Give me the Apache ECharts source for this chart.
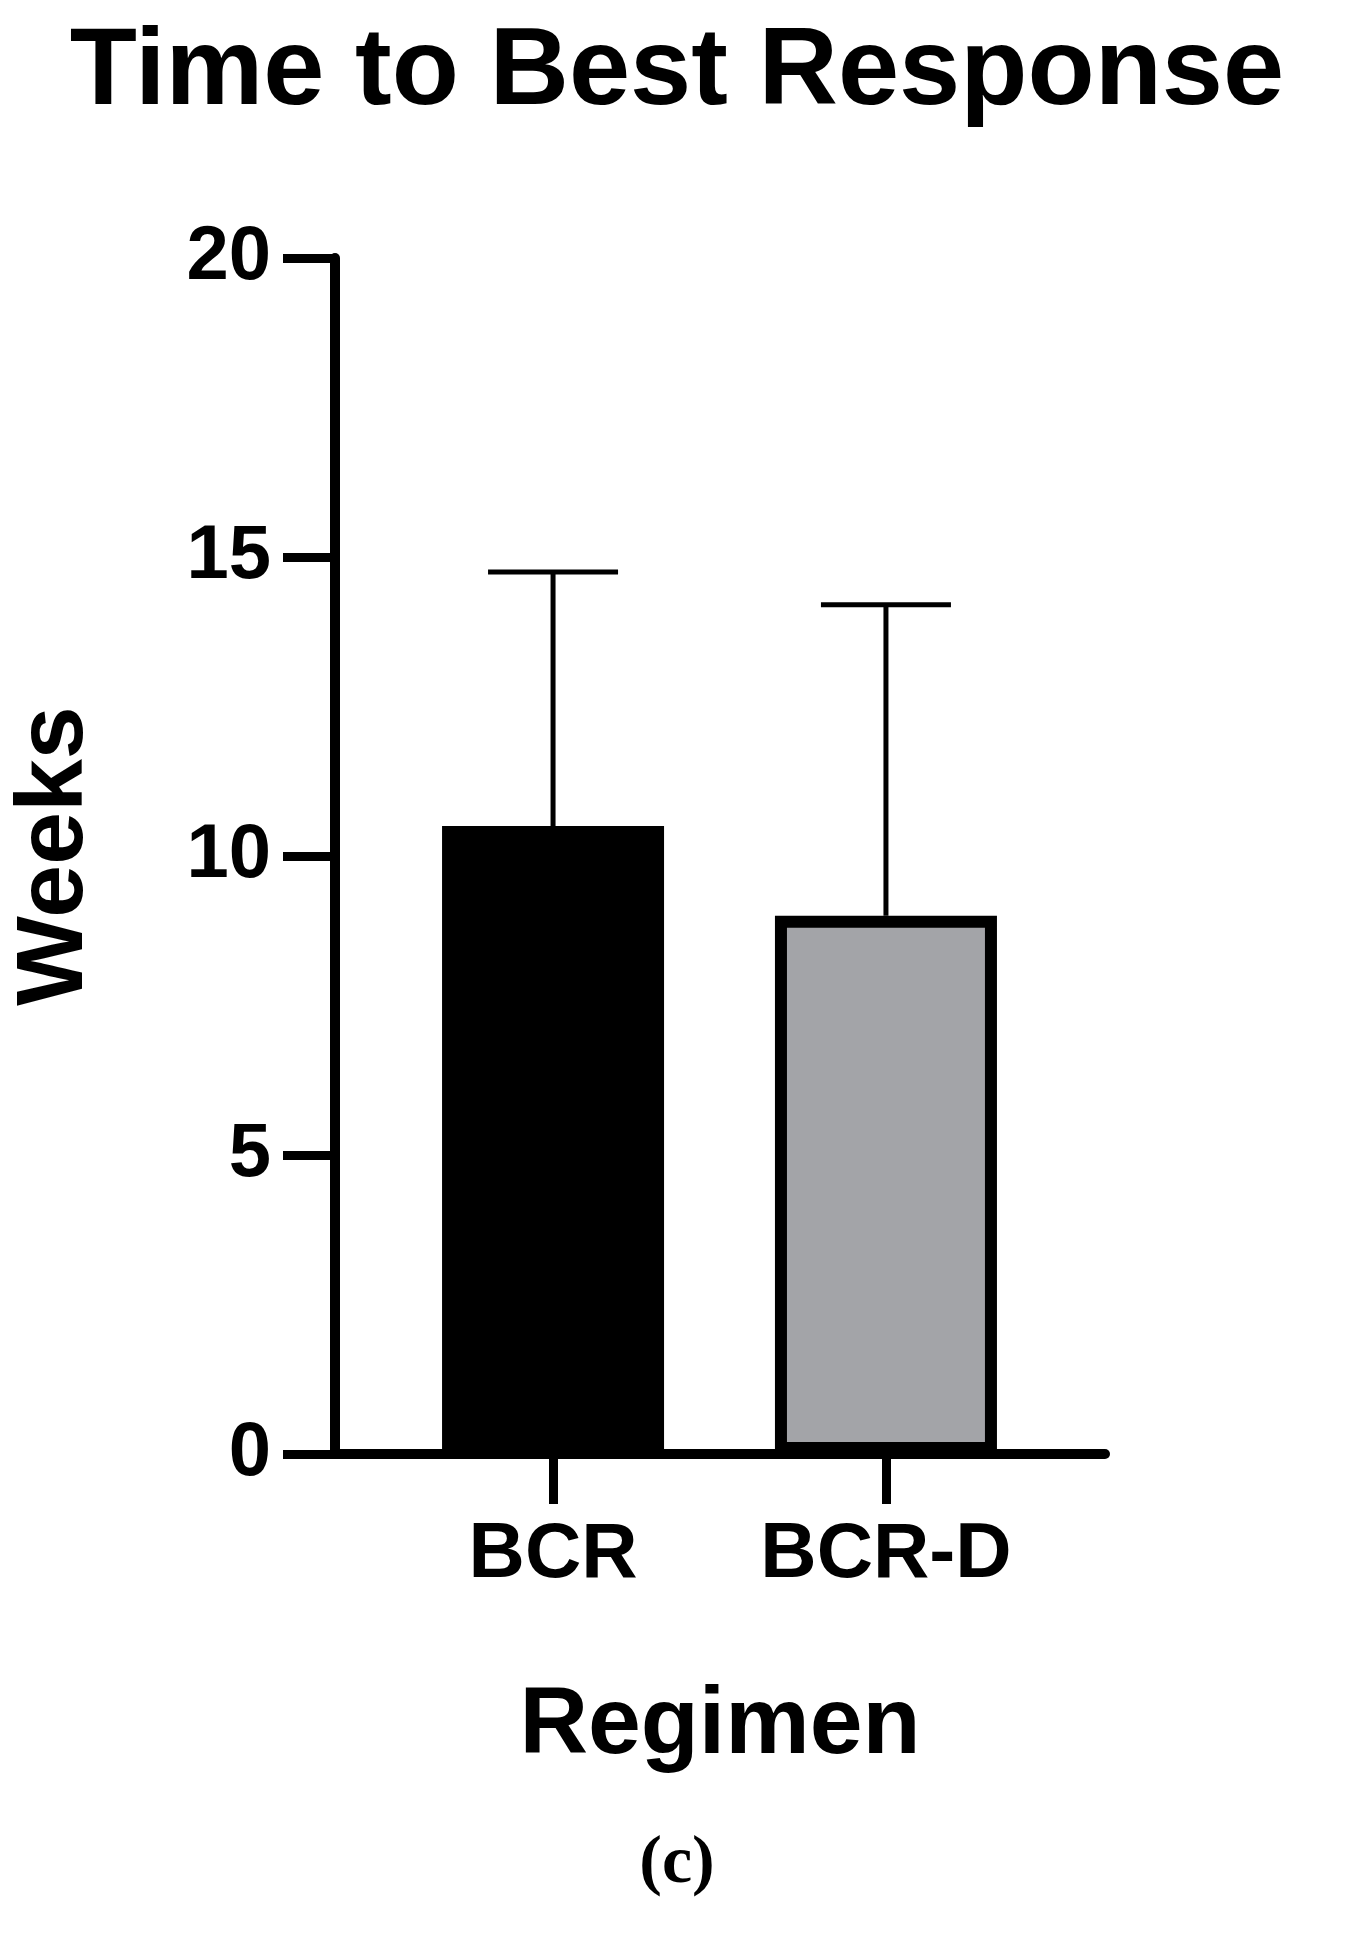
<!DOCTYPE html><html><head><meta charset="utf-8"><script src="https://cdn.jsdelivr.net/npm/echarts@6/dist/echarts.min.js"></script>
<style>body{margin:0;background:#fff}#c{width:1354px;height:1940px}</style></head><body><div id="c"></div><script>
const categories=['BCR','BCR-D'];
const means=[10.5,9.0];
const errTop=[14.75,14.2];
const yTicks=[0,5,10,15,20];
const F='"Liberation Sans", Arial, sans-serif';
const chart=echarts.init(document.getElementById('c'));
chart.setOption({
 animation:false,
 title:{text:'Time to Best Response',left:'center',top:14,textStyle:{fontFamily:F,fontWeight:'bold',fontSize:110,color:'#000'}},
 graphic:[
  {type:'text',left:'center',top:1830,style:{text:'(c)',font:'bold 68px "Liberation Serif", serif',fill:'#000'}}
 ],
 grid:{left:314,right:249,top:258,bottom:486},
 xAxis:{type:'value',min:-0.655,max:1.658,name:'Regimen',nameLocation:'middle',nameGap:225,
  nameTextStyle:{fontFamily:F,fontWeight:'bold',fontSize:95,color:'#000'},
  splitLine:{show:false},
  axisLine:{show:true,onZero:false,lineStyle:{color:'#000',width:10}},
  axisTick:{show:true,customValues:[0,1],length:50,lineStyle:{color:'#000',width:9}},
  axisLabel:{customValues:[0,1],formatter:v=>categories[Math.round(v)],margin:62,fontFamily:F,fontWeight:'bold',fontSize:78,color:'#000'}},
 yAxis:{type:'value',min:0,max:20,interval:5,name:'Weeks',nameLocation:'middle',nameGap:232,
  nameTextStyle:{fontFamily:F,fontWeight:'bold',fontSize:95,color:'#000'},
  splitLine:{show:false},
  axisLine:{show:true,onZero:false,lineStyle:{color:'#000',width:10}},
  axisTick:{show:true,length:52,lineStyle:{color:'#000',width:9}},
  axisLabel:{margin:64,fontFamily:F,fontWeight:'bold',fontSize:76,color:'#000',formatter:v=>yTicks.includes(v)?String(v):''}},
 series:[
  {type:'custom',z:1,renderItem:(p,api)=>{const x=api.value(0),hi=api.value(1),m=api.value(2);
    const a=api.coord([x,m]),b=api.coord([x,hi]);
    return {type:'group',children:[
     {type:'line',shape:{x1:a[0],y1:a[1],x2:b[0],y2:b[1]},style:{stroke:'#000',lineWidth:5}},
     {type:'line',shape:{x1:b[0]-65,y1:b[1],x2:b[0]+65,y2:b[1]},style:{stroke:'#000',lineWidth:5}}]};},
   data:categories.map((c,i)=>[i,errTop[i],means[i]])},
  {type:'bar',z:2,barWidth:222,data:[
   {value:[0,means[0]],itemStyle:{color:'#000'}},
   {value:[1,means[1]],itemStyle:{color:'#a3a4a8',borderColor:'#000',borderWidth:12}}]}
 ]
});
</script></body></html>
